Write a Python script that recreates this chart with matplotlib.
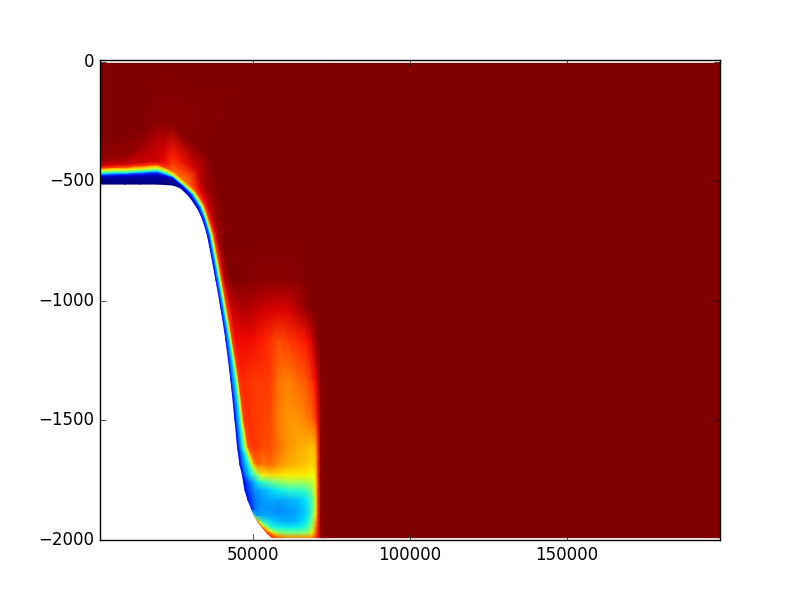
import numpy as np
import matplotlib
matplotlib.use('Agg')
import matplotlib.pyplot as plt

plt.style.use('classic')

# shelf and corner: sections running from the bottom outwards
shelf_x = [
    [1270] * 11,
    [9230] * 11,
    [14010] * 11,
    [19425] * 11,
    [21970] * 11,
    [24520] * 11,
    [27070, 27390, 27710, 27930, 28090, 28250, 28820, 29935, 32165, 35670, 74525],
    [29935, 30250, 30570, 30890, 31110, 31300, 31850, 32640, 33760, 36940, 198740],
    [32480, 32800, 33215, 33535, 33760, 34010, 34550, 35350, 36620, 39490, 198740],
    [34075, 34395, 34710, 34935, 35095, 35285, 35825, 36620, 37900, 40764, 198740],
    [35510, 35825, 36145, 36465, 36685, 36940, 37580, 38375, 39490, 42040, 198740],
]
shelf_depth = [
    [-511, -486, -476, -466, -460, -452, -443, -433, -410, -327, -6],
    [-511, -484, -472, -464, -458, -450, -439, -427, -397, -306, -6],
    [-511, -482, -469, -460, -454, -446, -434, -420, -360, -280, -6],
    [-511, -480, -466, -456, -450, -441, -429, -414, -327, -251, -6],
    [-513, -487, -475, -467, -459, -451, -441, -422, -355, -258, -6],
    [-515, -494, -485, -479, -475, -470, -456, -431, -389, -264, -6],
    [-528, -523, -519, -516, -514, -512, -503, -486, -452, -389, -6],
    [-565, -561, -557, -553, -550, -547, -540, -523, -503, -452, -6],
    [-615, -613, -611, -608, -606, -604, -599, -590, -578, -557, -536],
    [-661, -659, -658, -656, -654, -653, -649, -642, -632, -619, -598],
    [-724] * 11,
]
shelf_val = [
    [0.00, 0.03, 0.14, 0.35, 0.50, 0.65, 0.85, 0.93, 0.98, 1.00, 1.00],
    [0.00, 0.03, 0.14, 0.35, 0.50, 0.65, 0.85, 0.93, 0.98, 1.00, 1.00],
    [0.00, 0.03, 0.14, 0.35, 0.50, 0.65, 0.85, 0.93, 0.97, 1.00, 1.00],
    [0.00, 0.03, 0.14, 0.35, 0.50, 0.65, 0.85, 0.93, 0.95, 0.99, 1.00],
    [0.00, 0.03, 0.14, 0.35, 0.50, 0.65, 0.85, 0.90, 0.93, 0.99, 1.00],
    [0.00, 0.03, 0.14, 0.35, 0.50, 0.65, 0.80, 0.84, 0.88, 0.99, 1.00],
    [0.03, 0.06, 0.14, 0.35, 0.50, 0.65, 0.80, 0.82, 0.93, 1.00, 1.00],
    [0.06, 0.12, 0.20, 0.35, 0.50, 0.65, 0.85, 0.90, 0.96, 1.00, 1.00],
    [0.10, 0.16, 0.24, 0.35, 0.50, 0.65, 0.85, 0.92, 0.97, 1.00, 1.00],
    [0.13, 0.18, 0.24, 0.35, 0.50, 0.65, 0.85, 0.93, 0.98, 1.00, 1.00],
    [0.13, 0.18, 0.24, 0.35, 0.50, 0.65, 0.85, 0.93, 0.98, 1.00, 1.00],
]

# slope and plume: one row of x positions per depth
slope_depth = [-724, -912, -1038, -1163, -1331, -1498, -1611, -1686, -1728,
               -1757, -1791, -1833, -1874, -1900, -1925, -1950, -1971, -1990]
plume_x = [52870, 55415, 57960, 61150, 64330, 66880, 68790, 69900, 70705, 71660, 198740]
slope_x = [
    [35510, 36145, 36465, 36685, 36940, 37580, 38535, 40130] + plume_x,
    [38220, 38690, 39170, 39425, 39650, 40130, 41080, 42675] + plume_x,
    [39905, 40380, 40860, 41080, 41340, 41880, 43310, 47450] + plume_x,
    [41400, 41880, 42515, 42770, 42990, 43470, 44590, 49045] + plume_x,
    [42990, 43470, 44270, 44745, 45060, 45540, 46815, 49680] + plume_x,
    [44270, 44905, 45700, 46180, 46500, 47130, 48410, 50640] + plume_x,
    [45060, 45860, 46500, 47290, 47770, 48570, 49680, 51275] + plume_x,
    [45860, 46815, 48250, 49210, 49840, 50640, 51440, 52230] + plume_x,
    [46660, 47450, 49045, 50320, 51275, 51910, 52390, 52640] + plume_x,
    [46975, 47770, 48725, 49680, 50640, 51440, 52075, 52550] + plume_x,
    [47450, 48410, 49365, 50160, 50795, 51440, 52075, 52550] + plume_x,
    [48410, 49210, 49840, 50480, 51120, 51595, 52075, 52550] + plume_x,
    [49680, 50160, 50640, 51120, 51595, 51910, 52230, 52550] + plume_x,
    [50480, 50795, 51120, 51440, 51755, 52075, 52390, 52640] + plume_x,
    [51595, 51815, 52005, 52200, 52355, 52515, 52640, 52770] + plume_x,
    [53185, 53500, 53760, 53980, 54200, 54425, 54620, 54780,
     54935, 55735, 57960, 61150, 64330, 66880, 68790, 69900, 70705, 71660, 198740],
    [54460, 54780, 55100, 55415, 55735, 56050, 56370, 56690,
     57010, 57645, 58600, 61150, 64330, 66880, 68790, 69900, 70705, 71660, 198740],
    [56050, 56370, 56690, 57010, 57325, 57645, 57960, 58280,
     58600, 59240, 60510, 62420, 64330, 66880, 68790, 69900, 70705, 71660, 198740],
]
slope_val = [
    [0.13, 0.24, 0.35, 0.50, 0.65, 0.85, 0.95, 1.00,
     1.00, 1.00, 1.00, 1.00, 1.00, 1.00, 1.00, 1.00, 1.00, 1.00, 1.00],
    [0.13, 0.24, 0.35, 0.50, 0.65, 0.85, 0.95, 1.00,
     0.99, 0.99, 0.99, 0.99, 0.99, 1.00, 1.00, 1.00, 1.00, 1.00, 1.00],
    [0.13, 0.24, 0.35, 0.50, 0.65, 0.85, 0.93, 0.96,
     0.93, 0.92, 0.92, 0.92, 0.95, 0.98, 1.00, 1.00, 1.00, 1.00, 1.00],
    [0.13, 0.24, 0.35, 0.50, 0.65, 0.85, 0.90, 0.90,
     0.88, 0.86, 0.83, 0.85, 0.87, 0.89, 0.93, 0.97, 1.00, 1.00, 1.00],
    [0.13, 0.24, 0.35, 0.50, 0.65, 0.85, 0.87, 0.85,
     0.85, 0.85, 0.79, 0.77, 0.80, 0.82, 0.86, 0.90, 0.95, 1.00, 1.00],
    [0.13, 0.24, 0.35, 0.50, 0.65, 0.85, 0.86, 0.85,
     0.84, 0.83, 0.78, 0.75, 0.75, 0.77, 0.80, 0.84, 0.90, 1.00, 1.00],
    [0.13, 0.24, 0.35, 0.50, 0.65, 0.83, 0.85, 0.85,
     0.83, 0.83, 0.79, 0.75, 0.73, 0.72, 0.70, 0.73, 0.86, 1.00, 1.00],
    [0.13, 0.24, 0.35, 0.50, 0.65, 0.75, 0.80, 0.80,
     0.78, 0.80, 0.76, 0.73, 0.71, 0.70, 0.68, 0.70, 0.86, 1.00, 1.00],
    [0.13, 0.24, 0.35, 0.45, 0.52, 0.58, 0.62, 0.63,
     0.65, 0.68, 0.67, 0.66, 0.66, 0.66, 0.64, 0.67, 0.86, 1.00, 1.00],
    [0.13, 0.17, 0.22, 0.27, 0.32, 0.36, 0.39, 0.41,
     0.42, 0.48, 0.52, 0.56, 0.55, 0.56, 0.58, 0.65, 0.85, 1.00, 1.00],
    [0.13, 0.18, 0.22, 0.25, 0.27, 0.28, 0.29, 0.30,
     0.30, 0.33, 0.36, 0.40, 0.41, 0.43, 0.52, 0.66, 0.85, 1.00, 1.00],
    [0.14, 0.18, 0.21, 0.23, 0.25, 0.25, 0.26, 0.27,
     0.27, 0.29, 0.29, 0.30, 0.32, 0.35, 0.44, 0.62, 0.85, 1.00, 1.00],
    [0.16, 0.20, 0.23, 0.25, 0.26, 0.27, 0.27, 0.27,
     0.27, 0.27, 0.26, 0.27, 0.29, 0.33, 0.44, 0.62, 0.85, 1.00, 1.00],
    [0.45, 0.36, 0.31, 0.29, 0.28, 0.28, 0.28, 0.29,
     0.29, 0.29, 0.28, 0.28, 0.30, 0.34, 0.46, 0.66, 0.86, 1.00, 1.00],
    [0.80, 0.72, 0.68, 0.63, 0.58, 0.54, 0.50, 0.47,
     0.45, 0.34, 0.31, 0.30, 0.31, 0.36, 0.50, 0.72, 0.87, 1.00, 1.00],
    [0.82, 0.78, 0.73, 0.70, 0.65, 0.60, 0.55, 0.52,
     0.50, 0.42, 0.38, 0.37, 0.37, 0.41, 0.56, 0.76, 0.88, 1.00, 1.00],
    [0.84, 0.82, 0.80, 0.78, 0.75, 0.72, 0.68, 0.64,
     0.60, 0.56, 0.52, 0.50, 0.50, 0.52, 0.63, 0.80, 0.88, 1.00, 1.00],
    [0.86, 0.85, 0.85, 0.84, 0.84, 0.83, 0.83, 0.83,
     0.82, 0.80, 0.78, 0.76, 0.76, 0.76, 0.78, 0.84, 0.89, 1.00, 1.00],
]

x_ticks = [50000, 100000, 150000]
y_ticks = [0, -500, -1000, -1500, -2000]

fig, ax = plt.subplots(figsize=(8, 6), dpi=100)
fig.patch.set_facecolor('white')

ax.pcolormesh(np.array(shelf_x), np.array(shelf_depth), np.array(shelf_val),
              cmap='jet', vmin=0, vmax=1, shading='gouraud')

slope_y = np.tile(np.array(slope_depth)[:, None], (1, len(slope_x[0])))
ax.pcolormesh(np.array(slope_x), slope_y, np.array(slope_val),
              cmap='jet', vmin=0, vmax=1, shading='gouraud')

ax.set_xlim(1270, 198740)
ax.set_ylim(-2000, 8)
ax.set_xticks(x_ticks)
ax.set_yticks(y_ticks)

fig.savefig('out.png', dpi=100, facecolor='white')
